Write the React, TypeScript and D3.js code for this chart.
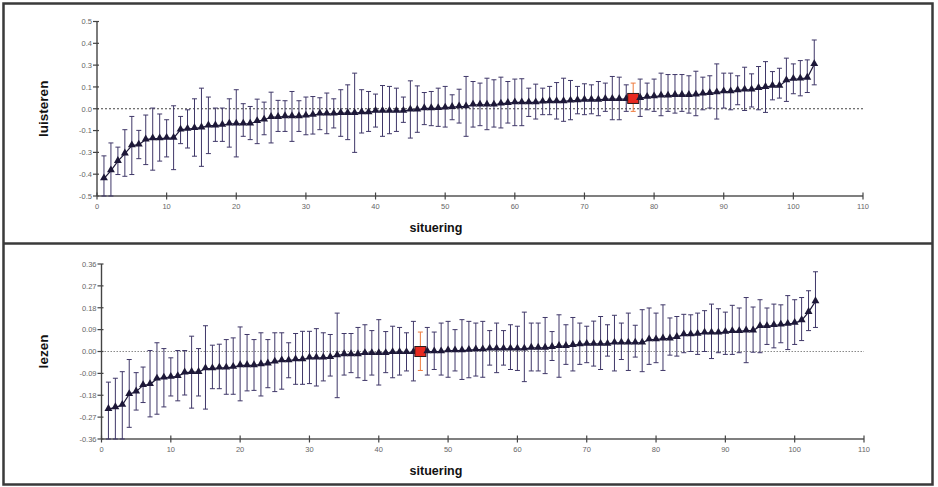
import * as d3 from "d3"

// situering 1..103, luisteren (top panel)
const luisterenMean = [
  -0.4, -0.354, -0.3, -0.257, -0.211, -0.206, -0.177, -0.171, -0.171, -0.168,
  -0.168, -0.12, -0.116, -0.112, -0.108, -0.097, -0.097, -0.093, -0.086, -0.086,
  -0.086, -0.086, -0.072, -0.063, -0.048, -0.048, -0.044, -0.044, -0.044, -0.04,
  -0.036, -0.029, -0.029, -0.029, -0.025, -0.025, -0.025, -0.021, -0.021, -0.013,
  -0.013, -0.013, -0.013, -0.013, -0.006, -0.006, 0.002, 0.002, 0.003, 0.006,
  0.009, 0.013, 0.013, 0.023, 0.023, 0.023, 0.023, 0.029, 0.032, 0.036,
  0.036, 0.036, 0.036, 0.04, 0.042, 0.042, 0.042, 0.046, 0.048, 0.051,
  0.051, 0.051, 0.055, 0.055, 0.055, 0.055, 0.059, 0.061, 0.067, 0.07,
  0.074, 0.074, 0.078, 0.078, 0.078, 0.08, 0.086, 0.089, 0.093, 0.099,
  0.099, 0.105, 0.109, 0.109, 0.118, 0.124, 0.131, 0.131, 0.162, 0.17,
  0.172, 0.177, 0.255,
]
const luisterenHigh = [
  -0.27, -0.196, -0.22, -0.12, -0.044, -0.124, -0.036, 0.004, -0.03, -0.063,
  0.017, -0.044, -0.006, 0.057, 0.118, 0.067, 0.004, 0.004, 0.057, 0.109,
  0.029, 0.013, 0.055, 0.038, 0.095, 0.048, 0.046, 0.099, 0.046, 0.067,
  0.07, 0.063, 0.09, 0.057, 0.109, 0.137, 0.204, 0.109, 0.099, 0.084,
  0.133, 0.128, 0.118, 0.067, 0.16, 0.131, 0.093, 0.099, 0.118, 0.128,
  0.08, 0.112, 0.185, 0.156, 0.147, 0.175, 0.166, 0.181, 0.156, 0.17,
  0.172, 0.118, 0.141, 0.118, 0.128, 0.15, 0.175, 0.162, 0.128, 0.143,
  0.137, 0.156, 0.147, 0.185, 0.181, 0.137, 0.147, 0.17, 0.147, 0.17,
  0.204, 0.196, 0.196, 0.196, 0.189, 0.215, 0.181, 0.189, 0.257, 0.204,
  0.204, 0.189, 0.238, 0.2, 0.242, 0.27, 0.213, 0.232, 0.29, 0.257,
  0.276, 0.28, 0.394,
]
const luisterenLow = [
  -0.5, -0.5, -0.377, -0.387, -0.377, -0.286, -0.32, -0.352, -0.3, -0.276,
  -0.349, -0.2, -0.225, -0.272, -0.33, -0.257, -0.187, -0.187, -0.22, -0.276,
  -0.158, -0.177, -0.2, -0.149, -0.196, -0.13, -0.13, -0.187, -0.13, -0.149,
  -0.145, -0.12, -0.143, -0.11, -0.158, -0.177, -0.25, -0.139, -0.13, -0.105,
  -0.158, -0.143, -0.13, -0.078, -0.168, -0.135, -0.091, -0.097, -0.101, -0.105,
  -0.063, -0.082, -0.158, -0.105, -0.097, -0.12, -0.105, -0.11, -0.082, -0.097,
  -0.097, -0.044, -0.059, -0.034, -0.034, -0.059, -0.072, -0.063, -0.029, -0.034,
  -0.029, -0.04, -0.015, -0.063, -0.063, -0.015, -0.015, -0.044, -0.006, -0.015,
  -0.04, -0.015, -0.025, -0.015, -0.025, -0.04, -0.006, 0.004, -0.059, 0.004,
  -0.006, 0.023, -0.01, 0.01, -0.006, -0.021, 0.051, 0.061, 0.042, 0.086,
  0.074, 0.093, 0.137,
]

// situering 1..103, lezen (bottom panel)
const lezenMean = [
  -0.237, -0.23, -0.22, -0.176, -0.165, -0.139, -0.135, -0.112, -0.108, -0.105,
  -0.102, -0.087, -0.085, -0.085, -0.07, -0.07, -0.067, -0.067, -0.064, -0.057,
  -0.057, -0.057, -0.053, -0.05, -0.042, -0.037, -0.037, -0.033, -0.033, -0.026,
  -0.026, -0.026, -0.024, -0.016, -0.012, -0.012, -0.012, -0.007, -0.007, -0.007,
  -0.007, -0.003, -0.003, -0.003, -0.003, 0.0, 0.0, 0.0, 0.0, 0.004,
  0.004, 0.004, 0.006, 0.008, 0.008, 0.011, 0.011, 0.011, 0.011, 0.011,
  0.011, 0.015, 0.015, 0.015, 0.018, 0.022, 0.022, 0.026, 0.029, 0.031,
  0.031, 0.031, 0.031, 0.036, 0.036, 0.036, 0.036, 0.036, 0.049, 0.049,
  0.053, 0.053, 0.059, 0.07, 0.07, 0.072, 0.077, 0.077, 0.077, 0.08,
  0.083, 0.083, 0.086, 0.086, 0.104, 0.104, 0.108, 0.11, 0.113, 0.117,
  0.128, 0.162, 0.206,
]
const lezenHigh = [
  -0.126, -0.11, -0.083, -0.033, -0.087, -0.064, 0.004, 0.036, 0.012, -0.026,
  0.004, 0.004, 0.063, 0.012, 0.106, 0.026, 0.03, 0.049, 0.056, 0.101,
  0.07, 0.049, 0.077, 0.049, 0.077, 0.077, 0.036, 0.074, 0.083, 0.083,
  0.094, 0.077, 0.07, 0.158, 0.074, 0.074, 0.099, 0.11, 0.086, 0.131,
  0.082, 0.104, 0.099, 0.077, 0.124, 0.08, 0.099, 0.08, 0.117, 0.124,
  0.09, 0.131, 0.124, 0.117, 0.124, 0.086, 0.117, 0.086, 0.11, 0.104,
  0.162, 0.117, 0.117, 0.14, 0.082, 0.151, 0.11, 0.14, 0.117, 0.104,
  0.125, 0.144, 0.11, 0.149, 0.117, 0.158, 0.108, 0.172, 0.179, 0.158,
  0.192, 0.138, 0.144, 0.153, 0.151, 0.158, 0.168, 0.195, 0.176, 0.162,
  0.19, 0.179, 0.222, 0.183, 0.213, 0.179, 0.195, 0.192, 0.23, 0.213,
  0.222, 0.25, 0.328,
]
const lezenLow = [
  -0.36, -0.36, -0.36, -0.312, -0.241, -0.21, -0.269, -0.258, -0.228, -0.183,
  -0.203, -0.179, -0.233, -0.183, -0.237, -0.153, -0.153, -0.176, -0.176, -0.203,
  -0.162, -0.16, -0.183, -0.149, -0.165, -0.155, -0.108, -0.135, -0.135, -0.132,
  -0.142, -0.121, -0.101, -0.19, -0.097, -0.087, -0.108, -0.119, -0.097, -0.138,
  -0.087, -0.108, -0.097, -0.08, -0.121, -0.078, -0.097, -0.074, -0.097, -0.106,
  -0.08, -0.115, -0.108, -0.101, -0.106, -0.056, -0.087, -0.056, -0.074, -0.078,
  -0.124, -0.08, -0.08, -0.091, -0.037, -0.106, -0.053, -0.08, -0.053, -0.046,
  -0.06, -0.074, -0.019, -0.08, -0.033, -0.078, -0.023, -0.083, -0.053, -0.046,
  -0.078, -0.015, -0.019, -0.005, 0.0, -0.012, 0.0, -0.029, -0.005, -0.012,
  -0.012, -0.005, -0.046, -0.003, -0.005, 0.029, 0.015, 0.036, 0.008, 0.029,
  0.045, 0.086, 0.099,
]

const xTicks = [0, 10, 20, 30, 40, 50, 60, 70, 80, 90, 100, 110]
const luisterenTicks = [-0.5, -0.375, -0.25, -0.125, 0, 0.125, 0.25, 0.375, 0.5]
const luisterenTickLabels = ["-0.5", "-0.4", "-0.3", "-0.1", "0.0", "0.1", "0.3", "0.4", "0.5"]
const lezenTicks = [-0.36, -0.27, -0.18, -0.09, 0, 0.09, 0.18, 0.27, 0.36]
const lezenTickLabels = ["-0.36", "-0.27", "-0.18", "-0.09", "0.00", "0.09", "0.18", "0.27", "0.36"]

const font = "Liberation Sans, Arial, sans-serif"

type PanelProps = {
  mean: number[]
  low: number[]
  high: number[]
  highlight: number
  yTicks: number[]
  yLabels: string[]
  title: string
  left: number
  right: number
  top: number
  bottom: number
  zeroColor: string
  zeroDash: string
}

const Panel = ({ mean, low, high, highlight, yTicks, yLabels, title, left, right, top, bottom, zeroColor, zeroDash }: PanelProps) => {
  const x = d3.scaleLinear().domain([0, 110]).range([left, right])
  const y = d3.scaleLinear().domain([yTicks[0], yTicks[yTicks.length - 1]]).range([bottom, top])
  const pts = mean.map((m, i) => ({ s: i + 1, m, lo: low[i], hi: high[i] }))
  const line = d3.line<{ s: number; m: number }>().x((d) => x(d.s)).y((d) => y(d.m))
  const tri = d3.symbol().type(d3.symbolTriangle).size(27)()
  const cap = 2.5

  return (
    <g>
      {/* zero reference */}
      <line x1={x(0)} x2={x(110)} y1={y(0)} y2={y(0)} stroke={zeroColor} strokeWidth={1.1} strokeDasharray={zeroDash} />

      {/* y axis */}
      <line x1={left} x2={left} y1={top} y2={bottom} stroke="#444" strokeWidth={1.4} />
      {yTicks.map((t, i) => (
        <g key={t}>
          <line x1={left - 4} x2={left + 2} y1={y(t)} y2={y(t)} stroke="#444" strokeWidth={1.2} />
          <text x={left - 5} y={y(t) + 2.8} fontSize={7.5} fill="#666" textAnchor="end" fontFamily={font}>
            {yLabels[i]}
          </text>
        </g>
      ))}

      {/* x axis */}
      <line x1={left} x2={right} y1={bottom} y2={bottom} stroke="#555" strokeWidth={1.6} />
      {xTicks.map((t) => (
        <g key={t}>
          <line x1={x(t)} x2={x(t)} y1={bottom - 3.5} y2={bottom + 3.5} stroke="#444" strokeWidth={1.2} />
          <text x={x(t)} y={bottom + 13} fontSize={7.5} fill="#666" textAnchor="middle" fontFamily={font}>
            {t}
          </text>
        </g>
      ))}

      {/* error bars */}
      {pts.map((d) => {
        const c = d.s === highlight ? "#ee7a3c" : "#3f3768"
        return (
          <g key={d.s} stroke={c} strokeWidth={1}>
            <line x1={x(d.s)} x2={x(d.s)} y1={y(d.lo)} y2={y(d.hi)} />
            <line x1={x(d.s) - cap} x2={x(d.s) + cap} y1={y(d.hi)} y2={y(d.hi)} />
            <line x1={x(d.s) - cap} x2={x(d.s) + cap} y1={y(d.lo)} y2={y(d.lo)} />
          </g>
        )
      })}

      <path d={line(pts) ?? ""} fill="none" stroke="#1d1838" strokeWidth={1.2} />

      {pts.map((d) =>
        d.s === highlight ? (
          <rect key={d.s} x={x(d.s) - 5.5} y={y(d.m) - 5} width={11} height={10} fill="#e8291f" stroke="#2a1a1a" strokeWidth={1} />
        ) : (
          <path key={d.s} d={tri ?? ""} transform={`translate(${x(d.s)},${y(d.m) - 0.5})`} fill="#1d1838" />
        ),
      )}

      <text x={436} y={bottom + 36} fontSize={12.5} fontWeight="bold" fill="#111" textAnchor="middle" fontFamily={font}>
        situering
      </text>
      <text
        transform={`translate(48,${(top + bottom) / 2}) rotate(-90)`}
        fontSize={13.5}
        fontWeight="bold"
        fill="#111"
        textAnchor="middle"
        fontFamily={font}
      >
        {title}
      </text>
    </g>
  )
}

export default function App() {
  return (
    <svg width={938} height={487} style={{ position: "absolute", left: 0, top: 0, background: "#fff" }}>
      <rect x={0} y={0} width={938} height={487} fill="#fff" />
      <Panel
        mean={luisterenMean}
        low={luisterenLow}
        high={luisterenHigh}
        highlight={77}
        yTicks={luisterenTicks}
        yLabels={luisterenTickLabels}
        title="luisteren"
        left={97}
        right={863}
        top={21.5}
        bottom={196}
        zeroColor="#444"
        zeroDash="2,2"
      />
      <Panel
        mean={lezenMean}
        low={lezenLow}
        high={lezenHigh}
        highlight={46}
        yTicks={lezenTicks}
        yLabels={lezenTickLabels}
        title="lezen"
        left={101.5}
        right={864}
        top={264}
        bottom={439}
        zeroColor="#8a8a8a"
        zeroDash="1.5,1.5"
      />
      {/* frame */}
      <rect x={3.5} y={3.5} width={929} height={481} fill="none" stroke="#3a3a3a" strokeWidth={2.5} />
      <line x1={3.5} x2={932.5} y1={243.5} y2={243.5} stroke="#3a3a3a" strokeWidth={2.5} />
    </svg>
  )
}
